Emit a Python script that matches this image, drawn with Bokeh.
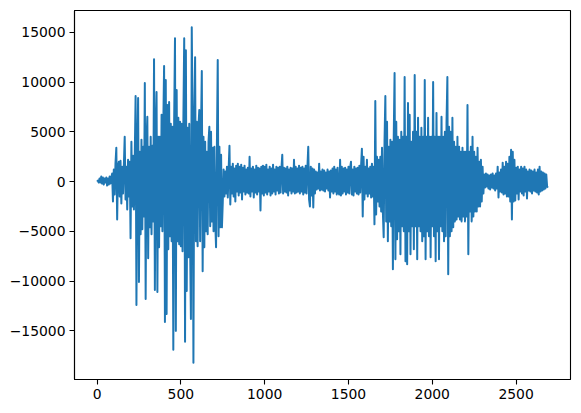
import numpy as np
from bokeh.plotting import figure
from bokeh.models import Range1d, FixedTicker
from bokeh.embed import file_html
from bokeh.resources import INLINE

# Sample step between the values (one value every 5 samples)
sample_step = 5

# Waveform values, 20 values per 100 samples
signal = [
    0, 100, -100, 300, -100, 500, -200, 400, -300, 300, -100, 400, -400, 300, -300, 500, -200, 400, 800, -2000,
    1200, -1300, 1800, 3400, -3800, 1500, 2000, -1500, 2100, -2200, 1500, -1200, 1600, 4500, -1800, 1500, -2800, 2200, -1500, 2000,
    -5700, 4000, -2500, 2600, -2800, 2500, 8600, -12400, 2800, 8400, -10100, 3000, -5300, 4200, -4800, 3500, -3500, 9900, -11800, 4000,
    6500, -7700, 3500, -4600, 4500, -5300, 3600, -4000, 12300, -10900, 4800, 9000, -11100, 4500, -6600, 4500, -4500, 6700, -5000, 5300,
    11600, -14100, 10200, -13300, 7700, -6800, 8000, -5500, 5800, -6000, 5500, -16900, 6000, 14400, -15000, 9200, -6000, 6400, -6300, 6000,
    -6500, 5800, -7000, 6000, 14400, -16100, 13200, -11000, 5400, -7600, 5800, -6000, -13800, 15500, 6000, -18200, 6000, 12500, -6000, 6000,
    -6500, 5500, 7200, -6000, 5000, 11100, -9000, 4500, -6600, 4000, -5000, 3000, -5300, 4000, 5500, -4500, 5000, -4000, 3400, -5000,
    3500, -4000, -6600, 3500, 12200, -5500, 3500, -4600, 2700, -4600, -2100, 1200, -1500, 1000, -1200, 1500, -1600, 1200, 3600, -2300,
    1500, -1200, 1800, -1500, 1300, -2000, 1600, -1000, 1800, -1400, 1500, -1100, 1700, -1800, 1400, -1000, 1600, -1300, 1200, -1100,
    1400, -1200, 2500, -1500, 1300, -1000, 1500, -1600, 1200, -1100, 1600, -1300, 1400, -1000, 1300, -2900, 1500, -1200, 1600, -1400,
    1500, -1100, 1700, -1300, 1200, -1000, 1500, -1400, 1300, -1200, 1700, -1000, 1200, -1300, 1500, -900, 1400, -1200, 1500, -1100,
    1300, 2700, -1200, 1400, -1000, 1300, -1100, 1500, -1400, 1200, -900, 1400, -1200, 1300, -1000, 2200, -1200, 1500, -1100, 1300,
    -1000, 1600, -1200, 1400, -1000, 1500, -1300, 1300, -1100, 1600, -1200, 1400, 3500, -1800, -2500, 1500, -1400, 1300, -2600, 1200,
    -1200, 1000, -800, 900, -700, 1800, -900, 1000, -800, 1200, -900, 1100, -1000, 900, -700, 1200, -900, 1000, -1600, 1100,
    -1000, 1300, -1200, 1500, -1000, 1200, -1300, 1400, -1100, -1300, 2200, -1400, 1500, -1200, 1300, -1000, 1400, -1300, 1200, -1100,
    1500, -1200, 1400, 2000, -1300, 1200, -1400, 1500, -1000, 1300, -1200, 1400, -1300, 1600, -1100, 1500, 3300, -3500, 2500, -1800,
    1500, -1200, 2200, -1500, 1300, -1200, 1500, -1600, 1800, -1500, 1500, -4300, 8100, -3300, 2500, -2000, 2200, -2500, 2500, -3000,
    3400, -3000, -5600, 4000, 8600, -4000, 6000, -6000, 3500, -4000, 4200, -4500, 4000, -8800, 4500, 10900, -7800, 6000, -5800, 4500,
    -5000, 4200, -7300, 5000, -4500, 4500, -5000, 10500, -8000, 4500, -8300, 7900, -5000, 6700, -7300, 4000, -4500, 5000, -6800, 10700,
    -4500, 5000, -7800, 6400, -4500, 4500, -5000, 5400, -6000, 4500, -5500, 10200, -7800, 4500, -5000, 6400, -5500, 4500, -7600, 4500,
    -4500, 10000, -5500, 4500, -8000, 6900, -5000, 4500, -7800, 4500, -4500, 6500, -5000, 4500, -6000, 5000, -5500, 6000, 10500, -9300,
    5500, -5500, 5000, -5000, 6400, -4600, 4000, -4000, 3500, -3800, 4500, -3500, 3500, -3800, 3000, -4000, 3400, -3500, 3000, -4000,
    3000, -3500, 7700, -7300, 3000, -3000, 3500, -4000, 4500, -3500, 3000, -3000, 2500, -3000, 3400, -2500, 2000, -2500, 2200, -2000,
    1500, -1200, 700, -600, 800, -500, 700, -700, 600, -800, 700, -600, 800, -700, 600, -900, 800, -700, 1500, -1600,
    900, -1000, 1200, -1100, 1900, -1300, 1500, -1200, 2000, -1500, 1800, -1500, 2500, -2000, 3200, -3800, 3000, -2000, 2200, -1900,
    1400, -1200, 1500, -1800, 1200, -1000, 1500, -1200, 1300, -1400, 1500, -1000, 1200, -1700, 1000, -900, 1200, -1000, 1100, -1200,
    1000, -900, 1200, -1000, 900, -1100, 1200, -1300, 1500, -1000, 1000, -900, 900, -800, 800, -700, 700, -500, -600,
]

x_ticks = [0, 500, 1000, 1500, 2000, 2500]
y_ticks = [-15000, -10000, -5000, 0, 5000, 10000, 15000]
x_labels = ["0", "500", "1000", "1500", "2000", "2500"]
y_labels = ["\u221215000", "\u221210000", "\u22125000", "0", "5000", "10000", "15000"]

xs = np.arange(len(signal)) * sample_step
ys = np.array(signal, dtype=float)

xpad = 0.05 * (xs.max() - xs.min())
ypad = 0.05 * (ys.max() - ys.min())

p = figure(
    width=575, height=409,
    output_backend="svg", toolbar_location=None,
    x_range=Range1d(xs.min() - xpad, xs.max() + xpad),
    y_range=Range1d(ys.min() - ypad, ys.max() + ypad),
    min_border_left=74, min_border_right=5, min_border_top=10, min_border_bottom=30,
)
p.background_fill_color = "white"
p.border_fill_color = "white"
p.outline_line_color = "black"
p.outline_line_width = 1.1
p.grid.visible = False

p.line(xs, ys, line_color="#1f77b4", line_width=2, line_join="round")

p.xaxis.ticker = FixedTicker(ticks=x_ticks)
p.yaxis.ticker = FixedTicker(ticks=y_ticks)
p.xaxis.major_label_overrides = dict(zip(x_ticks, x_labels))
p.yaxis.major_label_overrides = dict(zip(y_ticks, y_labels))

for ax in (p.xaxis, p.yaxis):
    ax.axis_line_color = "black"
    ax.axis_line_width = 1.1
    ax.major_tick_line_color = "black"
    ax.major_tick_line_width = 1.1
    ax.major_tick_out = 5
    ax.major_tick_in = 0
    ax.minor_tick_line_color = None
    ax.major_label_text_font = "DejaVu Sans"
    ax.major_label_text_font_size = "13.9px"
    ax.major_label_text_color = "black"
    ax.major_label_standoff = 4

open("out.html", "w").write(file_html(p, INLINE))
